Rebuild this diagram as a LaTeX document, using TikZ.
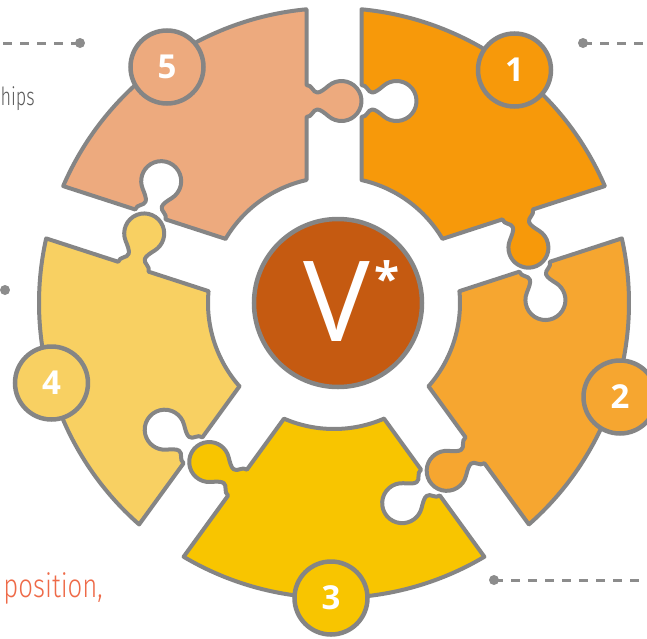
\documentclass[tikz,border=0pt]{standalone}
\usepackage{fontspec}
\setmainfont{Open Sans}
\newfontfamily\lightfont{Fira Sans Light}

\definecolor{pA}{HTML}{F7990A}
\definecolor{pB}{HTML}{F6A630}
\definecolor{pC}{HTML}{F8C500}
\definecolor{pD}{HTML}{F8D062}
\definecolor{pE}{HTML}{EDAA7E}
\definecolor{core}{HTML}{C55A11}
\definecolor{rim}{HTML}{858585}
\definecolor{leadgray}{HTML}{8C8C8C}
\definecolor{txtgray}{HTML}{5A5A5A}
\definecolor{txtred}{HTML}{EE6A48}

% puzzle tab outline, local frame: edge on the y axis, tab pointing to +x
\newcommand{\knobfwd}{%
  -- (0,-16) .. controls (6,-16) and (6,-8.5) .. (11,-8.5)
  .. controls (14,-8.5) and (18.3,-12.1) .. (22.14,-15.32)
  arc[start angle=-130, end angle=130, radius=20]
  .. controls (18.3,12.1) and (14,8.5) .. (11,8.5)
  .. controls (6,8.5) and (6,16) .. (0,16)}
\newcommand{\knobrev}{%
  -- (0,16) .. controls (6,16) and (6,8.5) .. (11,8.5)
  .. controls (14,8.5) and (18.3,12.1) .. (22.14,15.32)
  arc[start angle=130, end angle=-130, radius=20]
  .. controls (18.3,-12.1) and (14,-8.5) .. (11,-8.5)
  .. controls (6,-8.5) and (6,-16) .. (0,-16)}

% one ring segment: socket on its counter-clockwise side, tab on its clockwise side
\newcommand{\ringpiece}[2]{%
  \draw[piece, fill=#2, rotate=#1]
    (27.5,122.96)
    {[shift={(27.5,202)}] \knobfwd}
    -- (27.5,293.7)
    arc[start angle=84.65, end angle=23.35, radius=295]
    {[rotate=-72, shift={(-27.5,202)}] -- (0,91.7) \knobrev -- (0,-79.04)}
    arc[start angle=30.61, end angle=77.39, radius=126]
    -- cycle;
}

\tikzset{
  piece/.style={draw=rim, line width=4pt, line join=round},
  numdisc/.style={circle, draw=rim, line width=4.5pt, minimum size=73pt,
    inner sep=0pt, text=white, font=\bfseries\fontsize{33}{33}\selectfont},
  leaddot/.style={circle, fill=leadgray, minimum size=10pt, inner sep=0pt},
  lead/.style={draw=leadgray, line width=3pt, dash pattern=on 9pt off 8pt},
}

\begin{document}
\begin{tikzpicture}[x=1pt, y=1pt]
\useasboundingbox (-334,-335) rectangle (313,303);

% ring of five puzzle segments
\ringpiece{0}{pA}
\ringpiece{-72}{pB}
\ringpiece{-144}{pC}
\ringpiece{-216}{pD}
\ringpiece{-288}{pE}

% hub
\node[circle, draw=rim, line width=4.5pt, fill=core, minimum size=168pt, inner sep=0pt] (hub) at (4,0) {};
\node[anchor=base west, inner sep=0pt, text=white] (hublabel) at (-31,-38)
  {\fontsize{112}{112}\selectfont V\hspace{5pt}\raisebox{46pt}{\bfseries\fontsize{46}{46}\selectfont *}};

% numbered discs
\node[numdisc, fill=pA] (n1) at (180.5,233) {1};
\node[numdisc, fill=pB] (n2) at (286,-94) {2};
\node[numdisc, fill=pC] (n3) at (-3,-295) {3};
\node[numdisc, fill=pD] (n4) at (-282.5,-80) {4};
\node[numdisc, fill=pE] (n5) at (-167,236) {5};

% leader lines
\coordinate (e1) at (313,260);
\coordinate (e3) at (313,-277);
\coordinate (e5) at (-334,260);
\node[leaddot] (d1) at (249,260) {};
\node[leaddot] (d3) at (160,-277) {};
\node[leaddot] (d4) at (-329,13) {};
\node[leaddot] (d5) at (-254,260) {};
\draw[lead] (d1.center) -- (e1);
\draw[lead] (d3.center) -- (e3);
\draw[lead] (d5.center) -- (e5);

% side captions
\node[anchor=base east, inner sep=0pt, text=txtgray] (cap5) at (-299,198)
  {\scalebox{0.72}[1]{\lightfont\fontsize{25}{25}\selectfont hips}};
\node[anchor=base east, inner sep=0pt, text=txtred] (cap3) at (-231,-294)
  {\scalebox{0.78}[1]{\lightfont\fontsize{33}{33}\selectfont position,}};
\end{tikzpicture}
\end{document}
